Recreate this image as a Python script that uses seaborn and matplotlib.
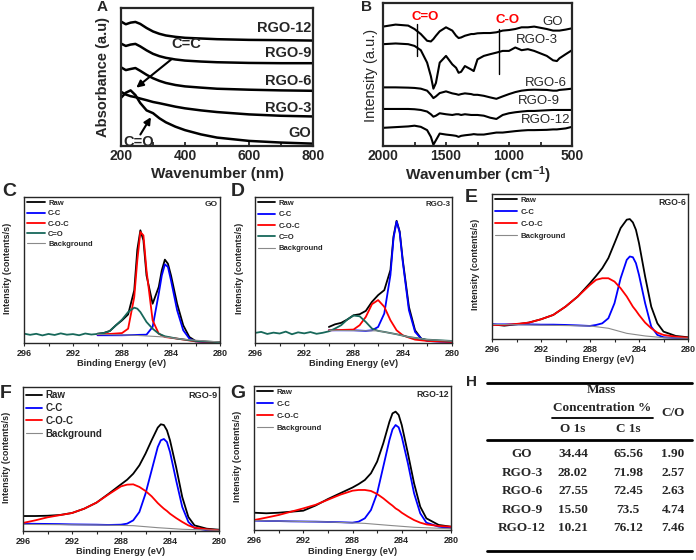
#!/usr/bin/env python3
"""
plot.py
UV-vis, FTIR and XPS C1s panels for GO / RGO samples, plus the composition table.
"""
import matplotlib
matplotlib.use("Agg")
import matplotlib.pyplot as plt
import seaborn as sns

W, H = 696, 560

# ---- A: UV-vis absorbance (offset curves, a.u.)
UV_NM = [200, 215, 230, 245, 260, 280, 300, 320, 340, 370, 400, 450, 500, 600, 700, 800]
UV_GO = [34.9, 38.6, 40.3, 36.9, 31.2, 25.8, 23.8, 20.1, 17.2, 14.0, 11.5, 8.4, 6.1, 3.7, 2.5, 1.7]
UV_RGO3 = [39.3, 37.3, 36.1, 35.4, 34.4, 33.2, 31.9, 31.0, 30.0, 28.5, 27.3, 25.8, 24.6, 22.9, 21.9, 21.4]
UV_RGO6 = [57.0, 55.0, 55.8, 56.5, 54.5, 51.6, 49.1, 47.2, 45.7, 44.2, 43.2, 42.3, 41.5, 40.8, 40.3, 40.0]
UV_RGO9 = [74.2, 72.5, 73.5, 74.0, 72.2, 69.3, 66.8, 65.1, 63.9, 62.7, 61.9, 61.2, 60.7, 60.2, 60.0, 60.0]
UV_RGO12 = [90.2, 88.2, 89.4, 89.9, 88.5, 85.5, 83.0, 81.3, 80.1, 79.1, 78.4, 77.9, 77.4, 76.9, 76.7, 76.4]
UV_LABELS = ["GO", "RGO-3", "RGO-6", "RGO-9", "RGO-12"]
UV_LABEL_Y = [9.1, 27.5, 47.2, 67.3, 85.3]

# ---- B: FTIR (offset curves, a.u.)
FT_CM = [2000, 1900, 1800, 1750, 1700, 1650, 1620, 1600, 1580, 1550, 1500, 1450, 1420, 1400,
         1380, 1350, 1300, 1280, 1250, 1200, 1150, 1100, 1050, 1000, 950, 900, 850, 800, 700,
         650, 620, 600, 550, 500]
FT_GO = [83.5, 84.9, 84.2, 81.8, 78.3, 73.6, 73.1, 74.8, 77.1, 80.2, 83.0, 80.7, 77.1, 75.5,
         75.9, 77.1, 78.3, 78.3, 78.8, 79.0, 79.0, 79.5, 80.7, 81.1, 81.8, 83.0, 83.0, 83.5, 81.8,
         80.7, 80.7, 80.7, 81.4, 82.3]
FT_RGO3 = [71.2, 71.7, 71.2, 70.0, 67.0, 58.3, 48.8, 40.1, 44.1, 58.3, 63.0, 57.1, 54.7, 51.2,
           51.9, 55.9, 53.5, 52.4, 60.6, 63.0, 64.2, 65.3, 66.5, 66.5, 68.9, 67.0, 67.7, 66.5, 63.0,
           59.9, 59.4, 61.3, 64.2, 67.0]
FT_RGO6 = [41.0, 41.0, 40.8, 40.6, 40.1, 38.7, 35.8, 33.5, 34.7, 37.0, 38.2, 36.8, 36.3, 35.8,
           36.3, 36.8, 36.3, 35.8, 35.8, 35.1, 34.0, 33.0, 34.7, 36.3, 37.7, 38.7, 39.2, 39.4, 39.2,
           38.7, 38.7, 39.2, 39.6, 40.1]
FT_RGO9 = [25.9, 25.9, 25.9, 25.7, 25.2, 24.1, 22.2, 20.5, 21.2, 22.9, 22.2, 21.7, 22.2, 22.2,
           21.7, 22.2, 21.7, 21.7, 21.7, 21.2, 19.8, 18.9, 21.7, 22.9, 23.6, 24.1, 24.5, 24.5, 25.0,
           25.2, 25.2, 25.2, 25.2, 25.2]
FT_RGO12 = [12.7, 13.2, 13.7, 14.2, 13.4, 11.1, 6.4, 0.9, 4.0, 8.7, 8.0, 7.5, 7.1, 6.4,
            7.1, 7.5, 8.0, 8.3, 8.0, 8.0, 8.7, 9.4, 9.4, 9.9, 10.4, 10.8, 11.1, 11.1, 11.3,
            11.6, 11.6, 11.8, 12.3, 13.4]
FT_LABELS = ["GO", "RGO-3", "RGO-6", "RGO-9", "RGO-12"]
FT_LABEL_X = [655, 775, 708, 761, 708]
FT_LABEL_Y = [86.6, 74.1, 44.1, 31.6, 18.2]

# ---- XPS C1s, binding energy (eV) and intensity (a.u.)
EV_FULL = [296, 295, 294, 293, 292, 291, 290, 289, 288, 287.5, 287, 286.5, 286, 285.5, 285,
           284.75, 284.5, 284.25, 284, 283.5, 283, 282.5, 282, 281, 280]
EV_NOISE = [296, 295.5, 295, 294.5, 294, 293.5, 293, 292.5, 292, 291.5, 291, 290.5, 290]

# C: GO
C_RAW_EV = [290, 289.5, 289, 288.5, 288, 287.5, 287, 286.75, 286.5, 286.25, 286, 285.5, 285,
            284.75, 284.5, 284.25, 284, 283.5, 283, 282.5, 282, 281, 280]
C_RAW = [6.4, 6.8, 8.2, 12.1, 15.5, 19.6, 36.1, 63.9, 77.2, 70.3, 46.3, 26.9, 38.4,
         49.8, 57.1, 54.3, 46.3, 26.9, 12.1, 4.1, 1.4, 0.7, 0.7]
C_CC_EV = [290, 288, 286, 285.5, 285, 284.75, 284.5, 284.25, 284, 283.5, 283, 282.5, 282, 281, 280]
C_CC = [5.3, 5.3, 5.7, 11.0, 33.8, 46.3, 53.9, 52.1, 42.9, 22.4, 8.7, 3.0, 1.1, 0.5, 0.2]
C_COC_EV = [290, 289, 288, 287.5, 287, 286.75, 286.5, 286.25, 286, 285.5, 285, 284.5, 283.5, 282, 280]
C_COC = [5.9, 6.2, 6.8, 9.8, 31.5, 56.6, 76.0, 73.7, 49.8, 15.5, 6.4, 4.1, 3.0, 1.1, 0.5]
C_CO_EV = EV_NOISE + [289.5, 289, 288.5, 288, 287.5, 287, 286.75, 286.5, 286.25, 286, 285.5,
                      285, 284.5, 283.5, 282, 280]
C_CO = [6.4, 5.6, 6.3, 5.2, 6.2, 5.5, 6.6, 5.7, 6.1, 5.3, 6.5, 5.8, 6.2,
        6.8, 8.2, 12.1, 16.0, 21.2, 24.2, 23.5, 21.2, 17.8, 14.4, 9.8, 6.4, 4.6, 3.0, 1.4, 0.5]
C_BG_EV = [290, 287, 284.5, 283, 280]
C_BG = [5.9, 5.3, 4.1, 2.5, 0.7]

# D: RGO-3
D_RAW_EV = [290, 289.5, 289, 288.5, 288, 287.5, 287, 286.5, 286, 285.5, 285, 284.75, 284.5,
            284.25, 284, 283.5, 283, 282.5, 282, 281, 280]
D_RAW = [11.0, 12.8, 13.8, 16.1, 19.0, 19.7, 22.0, 28.2, 32.8, 36.2, 50.0, 73.0, 83.7,
         76.4, 56.9, 24.8, 8.7, 3.0, 1.8, 1.4, 1.1]
D_CC_EV = [290, 289, 288, 287, 286.5, 286, 285.5, 285, 284.75, 284.5, 284.25, 284, 283.5, 283,
           282.5, 282, 281, 280]
D_CC = [8.7, 8.7, 8.7, 8.3, 8.7, 11.0, 20.2, 46.6, 71.8, 83.3, 75.7, 55.7, 22.5, 7.6,
        3.0, 1.4, 0.9, 0.7]
D_COC_EV = [290, 288, 287.5, 287, 286.5, 286, 285.5, 285, 284.5, 284, 283.5, 283, 282, 280]
D_COC = [8.7, 9.2, 12.2, 17.9, 26.6, 29.4, 24.8, 15.6, 8.7, 5.3, 3.7, 2.3, 1.4, 0.7]
D_CO_EV = EV_NOISE + [289.5, 289, 288.5, 288, 287.5, 287, 286.5, 286, 285.5, 284.5, 283.5, 282, 280]
D_CO = [6.9, 7.6, 6.2, 7.1, 6.5, 7.8, 6.0, 7.3, 6.6, 7.5, 6.3, 7.0, 8.0,
        9.9, 12.2, 16.1, 18.8, 18.3, 14.4, 9.9, 8.3, 7.6, 6.0, 4.1, 2.3, 1.4]
D_BG_EV = [290, 286, 284.5, 283.5, 282, 280]
D_BG = [8.7, 8.3, 6.0, 4.1, 2.3, 1.4]

# E: RGO-6
E_RAW = [10.1, 9.2, 10.1, 11.3, 13.6, 16.6, 22.3, 29.3, 38.5, 43.5, 48.8, 55.8, 66.1, 76.5,
         82.3, 82.7, 80.4, 75.3, 66.1, 43.1, 22.3, 10.8, 5.1, 2.1, 1.2]
E_CC = [10.1, 10.1, 10.1, 10.1, 9.9, 9.9, 9.7, 9.4, 9.0, 9.7, 10.8, 14.3, 24.7, 41.9,
        54.6, 56.9, 56.4, 52.3, 44.2, 24.7, 8.5, 2.8, 1.2, 0.7, 0.5]
E_COC = [9.7, 9.7, 10.4, 11.3, 13.6, 16.6, 22.3, 29.3, 37.3, 40.8, 41.9, 41.9, 39.6, 35.0,
         29.3, 25.8, 22.3, 19.6, 16.6, 11.3, 7.4, 4.4, 2.8, 1.6, 0.9]
E_BG_EV = [296, 288, 286.5, 285, 283.5, 282, 280]
E_BG = [10.1, 9.0, 7.4, 3.9, 2.1, 0.9, 0.5]

# F: RGO-9
F_RAW = [10.4, 10.4, 10.6, 11.1, 12.5, 15.5, 19.7, 25.9, 32.4, 35.6, 39.8, 45.6, 53.7, 63.0,
         71.8, 74.1, 73.6, 69.9, 63.0, 44.4, 23.6, 9.7, 3.9, 1.6, 0.9]
F_CC = [5.1, 5.0, 4.9, 4.8, 4.6, 4.5, 4.4, 4.2, 4.4, 5.1, 7.4, 13.2, 25.9, 42.1,
        58.3, 63.0, 63.9, 61.8, 54.9, 35.2, 16.7, 6.3, 2.1, 0.5, 0.2]
F_COC = [5.6, 7.4, 9.5, 11.0, 12.5, 15.5, 19.7, 25.5, 31.0, 32.2, 32.4, 30.6, 27.8, 24.1,
         19.4, 17.4, 15.5, 13.9, 12.0, 9.0, 6.3, 3.9, 2.3, 1.2, 0.5]
F_BG_EV = [296, 290, 287, 285, 283, 280]
F_BG = [4.6, 4.2, 3.7, 2.3, 1.2, 0.5]

# G: RGO-12
G_RAW = [12.0, 11.6, 12.0, 12.7, 13.4, 17.0, 21.5, 25.5, 29.5, 31.9, 34.7, 39.4, 47.5, 60.2,
         75.2, 81.0, 82.2, 79.9, 72.9, 53.2, 32.4, 16.2, 8.1, 3.5, 2.3]
G_CC = [6.5, 6.3, 6.2, 6.0, 5.9, 5.8, 5.6, 5.4, 5.1, 5.8, 8.1, 13.9, 25.5, 44.0,
        62.5, 69.9, 72.9, 71.3, 64.8, 46.3, 25.5, 11.6, 5.1, 2.3, 1.2]
G_COC = [6.9, 8.6, 10.4, 12.7, 15.0, 17.5, 21.0, 24.5, 27.3, 27.8, 27.8, 27.1, 25.0, 22.0,
         18.5, 16.9, 15.0, 13.7, 12.0, 9.3, 6.9, 5.1, 3.9, 2.8, 2.3]
G_BG_EV = [296, 290, 287, 285, 283, 280]
G_BG = [6.5, 5.6, 4.6, 3.2, 1.9, 0.9]

# ---- H: table
H_SAMPLES = ["GO", "RGO-3", "RGO-6", "RGO-9", "RGO-12"]
H_O1S = ["34.44", "28.02", "27.55", "15.50", "10.21"]
H_C1S = ["65.56", "71.98", "72.45", "73.5", "76.12"]
H_CO = ["1.90", "2.57", "2.63", "4.74", "7.46"]

BLUE, RED, TEAL, GREY = "#0000ff", "#ff0000", "#17685a", "#8a8a8a"

sns.set_style("ticks")
plt.rcParams["font.family"] = ["Liberation Sans", "DejaVu Sans"]
plt.rcParams["font.weight"] = "bold"
plt.rcParams["mathtext.fontset"] = "custom"
plt.rcParams["mathtext.rm"] = "Liberation Sans:bold"
plt.rcParams["mathtext.default"] = "rm"

fig = plt.figure(figsize=(W / 100, H / 100), dpi=100)


def box(l, t, r, b):
    return [l / W, 1 - b / H, (r - l) / W, (b - t) / H]


def ftext(x, y, s, **kw):
    fig.text(x / W, 1 - y / H, s, ha=kw.pop("ha", "center"), va=kw.pop("va", "center"), **kw)


def line(ax, x, y, color, lw, label=None):
    sns.lineplot(x=x, y=y, ax=ax, color=color, lw=lw, label=label,
                 estimator=None, sort=False, legend=False)


# ---- A
axA = fig.add_axes(box(121, 8, 313, 146))
for ys in [UV_GO, UV_RGO3, UV_RGO6, UV_RGO9, UV_RGO12]:
    line(axA, UV_NM, ys, "black", 1.8)
for lab, y in zip(UV_LABELS, UV_LABEL_Y):
    axA.text(795, y, lab, ha="right", va="center", fontsize=10.5, fontweight="bold")
axA.annotate("", xy=(241, 41.0), xytext=(366, 64.4),
             arrowprops=dict(arrowstyle="-|>", color="black", lw=1.5, mutation_scale=10))
axA.text(403, 74.2, "C=C", ha="center", va="center", fontsize=10.5)
axA.annotate("", xy=(298, 22.6), xytext=(256, 6.6),
             arrowprops=dict(arrowstyle="-|>", color="black", lw=1.5, mutation_scale=10))
axA.text(256, 2.6, "C=O", ha="center", va="center", fontsize=10.5)
axA.set(xlim=(200, 800), ylim=(0, 100), xticks=[200, 400, 600, 800], yticks=[],
        xlabel="", ylabel="")
axA.set_xticks([300, 500, 700], minor=True)
axA.tick_params(axis="x", which="both", direction="in", labelsize=10, width=1.3, length=3, pad=2)
for s in axA.spines.values():
    s.set_linewidth(1.6)
ftext(217, 174, "Wavenumber (nm)", fontsize=11)
ftext(103, 77, "Absorbance (a.u)", fontsize=10.5, rotation=90)
ftext(102, 7, "A", fontsize=11)

# ---- B
axB = fig.add_axes(box(383, 3, 572, 146))
for ys in [FT_GO, FT_RGO3, FT_RGO6, FT_RGO9, FT_RGO12]:
    line(axB, FT_CM, ys, "black", 1.5)
for lab, x, y in zip(FT_LABELS, FT_LABEL_X, FT_LABEL_Y):
    axB.text(x, y, lab, ha="center", va="center", fontsize=9.5, fontweight="normal")
axB.plot([1730, 1730], [63.0, 85.4], color="black", lw=1.0)
axB.plot([1080, 1080], [50.5, 81.8], color="black", lw=1.0)
axB.text(1667, 90.1, "C=O", color="red", ha="center", va="center", fontsize=9.5)
axB.text(1014, 88.2, "C-O", color="red", ha="center", va="center", fontsize=9.5)
axB.set(xlim=(2000, 500), ylim=(0, 100), xticks=[2000, 1500, 1000, 500], yticks=[],
        xlabel="", ylabel="")
axB.set_xticks([1750, 1250, 750], minor=True)
axB.tick_params(axis="x", which="both", direction="in", labelsize=10, width=1.3, length=3, pad=2)
for s in axB.spines.values():
    s.set_linewidth(1.6)
ftext(478, 175, r"Wavenumber (cm$^{-1}$)", fontsize=11)
ftext(371, 75, "Intensity (a.u.)", fontsize=10.5, rotation=90, fontweight="normal")
ftext(367, 7, "B", fontsize=11)


# ---- XPS panels
def xps_axes(rect, title, title_fs, leg_fs, hlen, lspace):
    ax = fig.add_axes(box(*rect))
    ax.set(xlim=(296, 280), ylim=(0, 100), xticks=[296, 292, 288, 284, 280], yticks=[],
           xlabel="", ylabel="")
    ax.set_xticks([294, 290, 286, 282], minor=True)
    ax.tick_params(axis="x", which="both", labelsize=6.5, width=0.8, length=2.5, pad=1.5)
    for s in ax.spines.values():
        s.set_linewidth(1.0)
    ax.text(0.99, 0.975, title, transform=ax.transAxes, ha="right", va="top",
            fontsize=title_fs, fontweight="bold")
    l, t, r, b = rect
    ftext((l + r) / 2, b + 21, "Binding Energy (eV)", fontsize=6.7)
    ftext(l - 16, (t + b) / 2 - 2, "Intensity (contents/s)", fontsize=6.5, rotation=90)
    return ax, dict(loc="upper left", frameon=False, prop=dict(size=leg_fs, weight="bold"),
                    handlelength=hlen, labelspacing=lspace, handletextpad=0.4,
                    borderaxespad=0.15, borderpad=0.2)


# C
axC, legC = xps_axes((24, 197, 220, 343), "GO", 6, 5.5, 2.4, 0.38)
line(axC, C_RAW_EV, C_RAW, "black", 1.3, "Raw")
line(axC, C_CC_EV, C_CC, BLUE, 1.3, "C-C")
line(axC, C_COC_EV, C_COC, RED, 1.3, "C-O-C")
line(axC, C_CO_EV, C_CO, TEAL, 1.3, "C=O")
line(axC, C_BG_EV, C_BG, GREY, 0.8, "Background")
axC.legend(**legC)
ftext(9, 191, "C", fontsize=14)

# D
axD, legD = xps_axes((255, 197, 452, 343), "RGO-3", 5.7, 5.5, 2.3, 0.52)
line(axD, D_RAW_EV, D_RAW, "black", 1.3, "Raw")
line(axD, D_CC_EV, D_CC, BLUE, 1.3, "C-C")
line(axD, D_COC_EV, D_COC, RED, 1.3, "C-O-C")
line(axD, D_CO_EV, D_CO, TEAL, 1.3, "C=O")
line(axD, D_BG_EV, D_BG, GREY, 0.8, "Background")
axD.legend(**legD)
ftext(238, 191, "D", fontsize=14)

# E
axE, legE = xps_axes((492, 194, 688, 339), "RGO-6", 6.3, 5.6, 2.9, 0.58)
line(axE, EV_FULL, E_RAW, "black", 1.3, "Raw")
line(axE, EV_FULL, E_CC, BLUE, 1.3, "C-C")
line(axE, EV_FULL, E_COC, RED, 1.3, "C-O-C")
line(axE, E_BG_EV, E_BG, GREY, 0.8, "Background")
axE.legend(**legE)
ftext(471, 197, "E", fontsize=14)

# F
axF, legF = xps_axes((23, 387, 219, 531), "RGO-9", 6.6, 7, 1.6, 0.28)
line(axF, EV_FULL, F_RAW, "black", 1.3, "Raw")
line(axF, EV_FULL, F_CC, BLUE, 1.3, "C-C")
line(axF, EV_FULL, F_COC, RED, 1.3, "C-O-C")
line(axF, F_BG_EV, F_BG, GREY, 0.8, "Background")
axF.legend(**legF)
ftext(6, 394, "F", fontsize=14)

# G
axG, legG = xps_axes((254, 386, 451, 530), "RGO-12", 6.3, 5.6, 2.1, 0.58)
line(axG, EV_FULL, G_RAW, "black", 1.3, "Raw")
line(axG, EV_FULL, G_CC, BLUE, 1.3, "C-C")
line(axG, EV_FULL, G_COC, RED, 1.3, "C-O-C")
line(axG, G_BG_EV, G_BG, GREY, 0.8, "Background")
axG.legend(**legG)
ftext(238, 393, "G", fontsize=14)

# ---- H: table drawn in pixel coordinates
axH = fig.add_axes([0, 0, 1, 1], facecolor="none")
axH.set_xlim(0, W)
axH.set_ylim(H, 0)
axH.set_axis_off()
for y in [383, 440, 551]:
    axH.plot([487, 692], [y, y], color="black", lw=2.0)
axH.plot([552, 653], [418, 418], color="black", lw=1.3)
serif = dict(family=["Liberation Serif", "DejaVu Serif"], fontweight="bold", fontsize=9.5,
             ha="center", va="center")
axH.text(601, 390, "Mass", **serif)
axH.text(602, 408, "Concentration %", **serif)
axH.text(673, 413, "C/O", **serif)
axH.text(573, 429, "O 1s", **serif)
axH.text(628, 429, "C 1s", **serif)
for i, (s, o, c, r) in enumerate(zip(H_SAMPLES, H_O1S, H_C1S, H_CO)):
    y = 454 + i * 18.6
    axH.text(522, y, s, **serif)
    axH.text(573, y, o, **serif)
    axH.text(628, y, c, **serif)
    axH.text(673, y, r, **serif)
ftext(472, 382, "H", fontsize=11)

fig.savefig("out.png", dpi=100)
